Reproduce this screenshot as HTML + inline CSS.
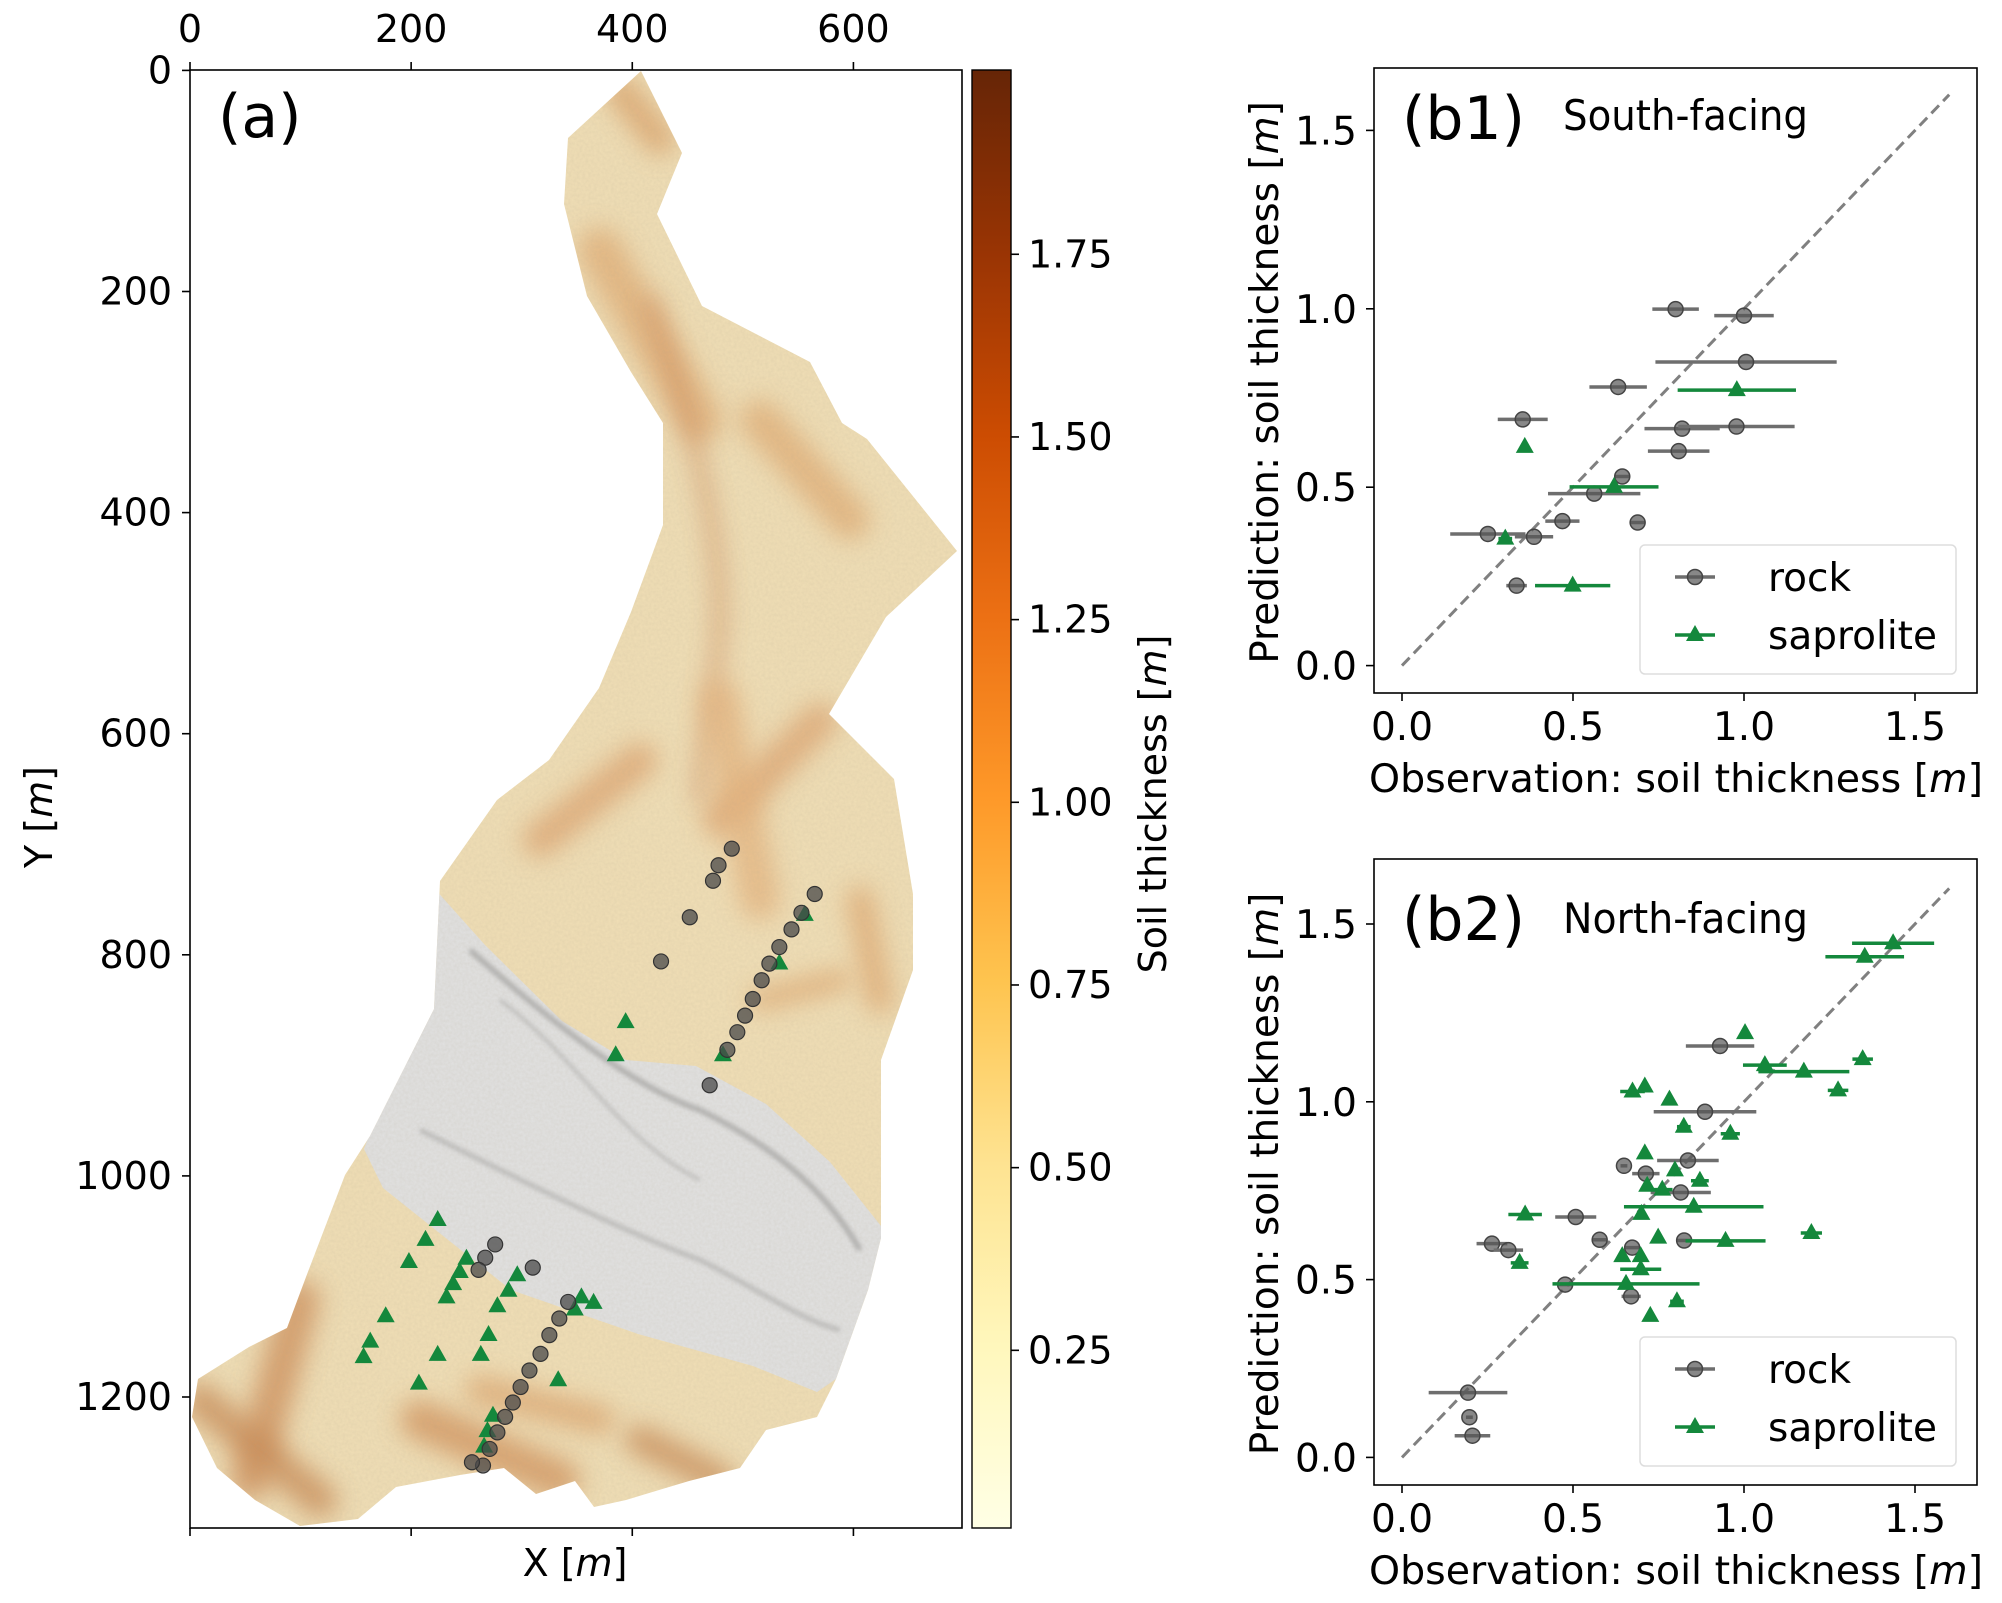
<!DOCTYPE html>
<html><head><meta charset="utf-8"><style>
body{margin:0;background:#fff}
svg text{font-family:"DejaVu Sans","Liberation Sans",sans-serif}
</style></head><body>
<svg id="fig" width="2002" height="1598" viewBox="0 0 2002 1598" xmlns="http://www.w3.org/2000/svg">
<defs>
<linearGradient id="cbar" x1="0" y1="1" x2="0" y2="0">
<stop offset="0" stop-color="#ffffe5"/><stop offset="0.125" stop-color="#fff7bc"/><stop offset="0.25" stop-color="#fee391"/><stop offset="0.375" stop-color="#fec44f"/><stop offset="0.5" stop-color="#fe9929"/><stop offset="0.625" stop-color="#ec7014"/><stop offset="0.75" stop-color="#cc4c02"/><stop offset="0.875" stop-color="#993404"/><stop offset="1" stop-color="#662506"/>
</linearGradient>
<filter id="blur" filterUnits="userSpaceOnUse" x="0" y="0" width="2002" height="1598"><feGaussianBlur stdDeviation="12"/></filter>
<filter id="blur2" filterUnits="userSpaceOnUse" x="0" y="0" width="2002" height="1598"><feGaussianBlur stdDeviation="2"/></filter>
<filter id="noise" x="0" y="0" width="100%" height="100%"><feTurbulence type="fractalNoise" baseFrequency="0.35" numOctaves="2" seed="3"/><feColorMatrix type="matrix" values="0 0 0 0 0.4  0 0 0 0 0.35  0 0 0 0 0.25  0 0 0 0.35 0"/></filter>
<clipPath id="catch"><path id="outline" d="M641,71 L682,153 L657,214 L702,306 L810,362 L842,423 L867,439 L957,551 L886,617 L829,714 L894,779 L913,894 L913,970 L881,1060 L881,1149 L881,1238 L868,1290 L836,1379 L817,1417 L766,1430 L740,1468 L689,1481 L626,1500 L594,1507 L575,1481 L536,1494 L504,1468 L460,1475 L396,1487 L358,1519 L300,1526 L255,1500 L217,1468 L192,1417 L198,1379 L249,1347 L287,1328 L306,1277 L345,1175 L370,1136 L434,1009 L440,881 L497,800 L549,760 L599,688 L631,612 L663,525 L663,423 L631,372 L587,296 L564,204 L568,138 Z"/></clipPath>
</defs>
<g id="panel-a"></g>
<g id="panel-b1"></g>
<g id="panel-b2"></g>
</svg>
<script>
// ---------- map data (metres) ----------
const mapRockX=[490,478,473,452,426,565,553,544,533,524,517,509,502,495,486,470,276,267,261,310,342,334,325,317,307,299,292,285,278,271,265,255];
const mapRockY=[704,719,733,766,806,745,762,777,793,808,823,840,855,870,886,918,1062,1074,1085,1083,1114,1129,1144,1161,1176,1191,1205,1218,1232,1247,1262,1259];
const mapSapX=[556,533,482,394,385,224,213,198,250,244,238,232,296,288,278,270,263,177,163,157,224,207,333,354,365,348,269,274,266];
const mapSapY=[763,807,890,860,890,1039,1057,1077,1074,1086,1097,1109,1089,1103,1117,1143,1161,1126,1149,1163,1161,1187,1184,1109,1114,1120,1230,1216,1244];
const mapXTicks=[0,200,400,600];
const mapYTicks=[0,200,400,600,800,1000,1200];
const cbarTicks=[0.25,0.5,0.75,1.0,1.25,1.5,1.75];
const cbarLabels=["0.25","0.50","0.75","1.00","1.25","1.50","1.75"];
// ---------- b1 data ----------
const b1RockObs=[0.80,1.00,1.006,0.632,0.353,0.819,0.978,0.809,0.644,0.562,0.469,0.689,0.251,0.386,0.335];
const b1RockPred=[0.999,0.981,0.851,0.781,0.690,0.664,0.670,0.601,0.530,0.482,0.405,0.401,0.369,0.361,0.224];
const b1RockErr=[0.068,0.087,0.265,0.084,0.073,0.11,0.17,0.09,0.02,0.135,0.05,0.02,0.11,0.056,0.03];
const b1SapObs=[0.979,0.359,0.62,0.302,0.499];
const b1SapPred=[0.772,0.613,0.501,0.356,0.224];
const b1SapErr=[0.173,0.01,0.13,0.02,0.11];
// ---------- b2 data ----------
const b2RockObs=[0.93,0.886,0.836,0.649,0.713,0.815,0.508,0.263,0.311,0.578,0.673,0.825,0.477,0.670,0.193,0.197,0.206];
const b2RockPred=[1.157,0.972,0.835,0.820,0.798,0.745,0.676,0.601,0.583,0.612,0.590,0.610,0.486,0.453,0.182,0.113,0.061];
const b2RockErr=[0.10,0.15,0.09,0.01,0.04,0.088,0.06,0.045,0.043,0.02,0.02,0.02,0.02,0.028,0.115,0.01,0.052];
const b2SapObs=[1.436,1.353,1.003,1.347,1.061,1.175,1.275,0.71,0.674,0.782,0.824,0.96,0.71,0.798,0.871,0.717,0.761,0.853,0.36,0.70,0.749,1.197,0.946,0.344,0.644,0.698,0.698,0.655,0.804,0.726];
const b2SapPred=[1.446,1.408,1.193,1.120,1.103,1.085,1.032,1.043,1.029,1.006,0.930,0.910,0.855,0.807,0.778,0.764,0.753,0.705,0.683,0.685,0.618,0.631,0.609,0.547,0.566,0.566,0.529,0.488,0.439,0.398];
const b2SapErr=[0.12,0.115,0.01,0.03,0.064,0.133,0.03,0.01,0.036,0.01,0.02,0.028,0.01,0.01,0.026,0.01,0.03,0.204,0.049,0.01,0.01,0.031,0.117,0.026,0.01,0.01,0.06,0.215,0.02,0.01];
const scatTicks=[0,0.5,1.0,1.5];
const scatLabels=["0.0","0.5","1.0","1.5"];

const NS="http://www.w3.org/2000/svg";
function mk(parent,tag,attrs,text){const e=document.createElementNS(NS,tag);for(const k in attrs)e.setAttribute(k,attrs[k]);if(text!==undefined)e.textContent=text;parent.appendChild(e);return e;}

// ================= PANEL A =================
const pa=document.getElementById('panel-a');
const mx=v=>190+v*1.1057, my=v=>70.4+v*1.1055;
const L=190,R=962,T=70,B=1528;
const mapG=mk(pa,'g',{'clip-path':'url(#catch)'});


mk(mapG,'rect',{x:150,y:60,width:850,height:1500,fill:'#f1dfb6'});
const streaks=[
 ["M620,90 L660,140","#dca066",30],["M600,250 L700,420","#e2ad74",45],["M760,420 L850,520","#e2ad74",40],
 ["M650,300 C690,420 720,520 720,620 C715,700 700,760 700,800","#c87a4c",9],["M540,840 L640,760","#dfa470",35],
 ["M720,820 L820,720","#dfa470",35],["M300,1300 L250,1480","#cf8d58",40],["M420,1420 L560,1480","#d3935c",40],
 ["M200,1400 L320,1500","#c98a55",35],["M640,1440 L720,1480","#c98a55",30],["M480,1390 L600,1420","#dea66e",30],
 ["M860,900 L880,1000","#e0a870",28],["M760,1000 L840,980","#e0a870",22],["M720,700 L760,900","#e6b47e",40]];
streaks.forEach(s=>{mk(mapG,'path',{d:s[0],stroke:s[1],'stroke-width':s[2],fill:'none',filter:'url(#blur)','stroke-linecap':'round',opacity:0.75});});
const fp=mk(mapG,'path',{d:"M434,888 L485,945 L562,1021 L626,1060 L696,1066 L766,1104 L830,1162 L881,1226 L881,1264 L868,1290 L836,1379 L817,1392 L753,1366 L638,1334 L511,1290 L383,1188 L364,1149 L383,1098 L434,1009 Z",fill:'#e2e2e2'});


mk(mapG,'path',{d:"M470,950 C560,1030 640,1090 700,1110 C760,1140 820,1180 860,1250",stroke:'#b5b5b5','stroke-width':6,fill:'none',filter:'url(#blur2)'});
mk(mapG,'path',{d:"M420,1130 C520,1180 620,1230 700,1260 C760,1290 800,1320 840,1330",stroke:'#c0c0c0','stroke-width':5,fill:'none',filter:'url(#blur2)'});
mk(mapG,'path',{d:"M500,1000 C580,1060 620,1140 700,1180",stroke:'#c4c4c4','stroke-width':4,fill:'none',filter:'url(#blur2)'});
mk(mapG,'rect',{x:150,y:60,width:850,height:1500,filter:'url(#noise)',opacity:0.5});
mapSapX.forEach((v,i)=>{const x=mx(v),y=my(mapSapY[i]);const t=mk(pa,'polygon',{points:`${x},${y-9} ${x-9},${y+7} ${x+9},${y+7}`,fill:'#14883c'});
 
 });
mapRockX.forEach((v,i)=>{const c=mk(pa,'circle',{cx:mx(v),cy:my(mapRockY[i]),r:7.5,fill:'#4a4a4a','fill-opacity':0.75,stroke:'#333','stroke-width':1.2});
 
 });
const fr=mk(pa,'rect',{x:L,y:T,width:R-L,height:B-T,fill:'none',stroke:'#000','stroke-width':1.6});


mapXTicks.forEach(v=>{const x=mx(v);mk(pa,'line',{x1:x,y1:T,x2:x,y2:T-8,stroke:'#000','stroke-width':1.6});mk(pa,'line',{x1:x,y1:B,x2:x,y2:B+8,stroke:'#000','stroke-width':1.6});
 const t=mk(pa,'text',{x:x,y:42,'font-size':38,'text-anchor':'middle'},String(v));
 
 });
mapYTicks.forEach(v=>{const y=my(v);mk(pa,'line',{x1:L,y1:y,x2:L-8,y2:y,stroke:'#000','stroke-width':1.6});
 const t=mk(pa,'text',{x:172,y:y+13,'font-size':38,'text-anchor':'end'},String(v));
 
 });
let t=mk(pa,'text',{x:575,y:1576,'font-size':38,'text-anchor':'middle'});


t.innerHTML='X [<tspan font-style="italic">m</tspan>]';
t=mk(pa,'text',{x:0,y:0,'font-size':38,'text-anchor':'middle',transform:'translate(52,817) rotate(-90)'});


t.innerHTML='Y [<tspan font-style="italic">m</tspan>]';
t=mk(pa,'text',{x:218,y:137,'font-size':60,'font-family':'Liberation Sans'},'(a)');


const cb=mk(pa,'rect',{x:972,y:70,width:39,height:1458,fill:'url(#cbar)',stroke:'#000','stroke-width':1.4});


const cy=v=>1533-v*730.7;
cbarTicks.forEach((v,i)=>{const y=cy(v);mk(pa,'line',{x1:1011,y1:y,x2:1019,y2:y,stroke:'#000','stroke-width':1.6});
 const tl=mk(pa,'text',{x:1028,y:y+13,'font-size':38},cbarLabels[i]);
 
 });
t=mk(pa,'text',{x:0,y:0,'font-size':38,'text-anchor':'middle',transform:'translate(1166,804) rotate(-90)'});


t.innerHTML='Soil thickness [<tspan font-style="italic">m</tspan>]';

// ================= SCATTER PANELS =================
function scatter(gid,top,bottom,y0px,yUnit,rO,rP,rE,sO,sP,sE,lab,title,legTop,titleY,labY){
 const g=document.getElementById(gid);
 const x0=1402,xU=342,left=1374,right=1977;
 const sx=v=>x0+v*xU, sy=v=>y0px-v*yUnit;
 const ax=mk(g,'rect',{x:left,y:top,width:right-left,height:bottom-top,fill:'none',stroke:'#000','stroke-width':1.6});
 
 
 mk(g,'line',{x1:sx(0),y1:sy(0),x2:sx(1.6),y2:sy(1.6),stroke:'#808080','stroke-width':3,'stroke-dasharray':'11,6'});
 scatTicks.forEach((v,i)=>{
  mk(g,'line',{x1:sx(v),y1:bottom,x2:sx(v),y2:bottom+8,stroke:'#000','stroke-width':1.6});
  const a=mk(g,'text',{x:sx(v),y:bottom+47,'font-size':39,'text-anchor':'middle'},scatLabels[i]);
  
  
  mk(g,'line',{x1:left,y1:sy(v),x2:left-8,y2:sy(v),stroke:'#000','stroke-width':1.6});
  const b=mk(g,'text',{x:1357,y:sy(v)+14,'font-size':39,'text-anchor':'end'},scatLabels[i]);
  
  
 });
 rO.forEach((v,i)=>{const y=sy(rP[i]);
  const l=mk(g,'line',{x1:sx(v-rE[i]),y1:y,x2:sx(v+rE[i]),y2:y,stroke:'#6e6e6e','stroke-width':3.5});
  
  
  const c=mk(g,'circle',{cx:sx(v),cy:y,r:7.5,fill:'#555','fill-opacity':0.7,stroke:'#444','stroke-width':1.5});
  
  });
 sO.forEach((v,i)=>{const y=sy(sP[i]),x=sx(v);
  const l=mk(g,'line',{x1:sx(v-sE[i]),y1:y,x2:sx(v+sE[i]),y2:y,stroke:'#14883c','stroke-width':3.5});
  
  
  const p=mk(g,'polygon',{points:`${x},${y-10} ${x-9},${y+6} ${x+9},${y+6}`,fill:'#14883c'});
  
  });
 let tx=mk(g,'text',{x:1369,y:bottom+99,'font-size':39,textLength:614,lengthAdjust:'spacingAndGlyphs'});
 
 
 tx.innerHTML='Observation: soil thickness [<tspan font-style="italic">m</tspan>]';
 tx=mk(g,'text',{x:0,y:0,'font-size':39,'text-anchor':'middle',transform:`translate(1278,${(top+bottom)/2+2}) rotate(-90)`});
 
 
 tx.innerHTML='Prediction: soil thickness [<tspan font-style="italic">m</tspan>]';
 tx=mk(g,'text',{x:1402,y:labY,'font-size':60,'font-family':'Liberation Sans'},lab);
 
 
 tx=mk(g,'text',{x:1563,y:titleY,'font-size':42,'font-family':'Liberation Sans',textLength:245,lengthAdjust:'spacingAndGlyphs'},title);
 
 
 const lg=mk(g,'g',{});
 
 
 mk(lg,'rect',{x:1640,y:legTop,width:316,height:129,rx:5,fill:'#fff','fill-opacity':0.8,stroke:'#ddd','stroke-width':1.5});
 const y1=legTop+32,y2=legTop+90;
 mk(lg,'line',{x1:1675,y1:y1,x2:1715,y2:y1,stroke:'#6e6e6e','stroke-width':3.5});
 mk(lg,'circle',{cx:1695,cy:y1,r:7.5,fill:'#555','fill-opacity':0.7,stroke:'#444','stroke-width':1.5});
 mk(lg,'line',{x1:1675,y1:y2,x2:1715,y2:y2,stroke:'#14883c','stroke-width':3.5});
 mk(lg,'polygon',{points:`1695,${y2-10} 1686,${y2+6} 1704,${y2+6}`,fill:'#14883c'});
 const e1=mk(lg,'text',{x:1768,y:y1+14,'font-size':39},'rock');
 
 
 const e2=mk(lg,'text',{x:1768,y:y2+14,'font-size':39},'saprolite');
 
 
}
scatter('panel-b1',68,693,665.6,356.8,b1RockObs,b1RockPred,b1RockErr,b1SapObs,b1SapPred,b1SapErr,'(b1)','South-facing',545,130,139);
scatter('panel-b2',859,1485,1457.4,355.6,b2RockObs,b2RockPred,b2RockErr,b2SapObs,b2SapPred,b2SapErr,'(b2)','North-facing',1337,933,940);
</script>
</body></html>
